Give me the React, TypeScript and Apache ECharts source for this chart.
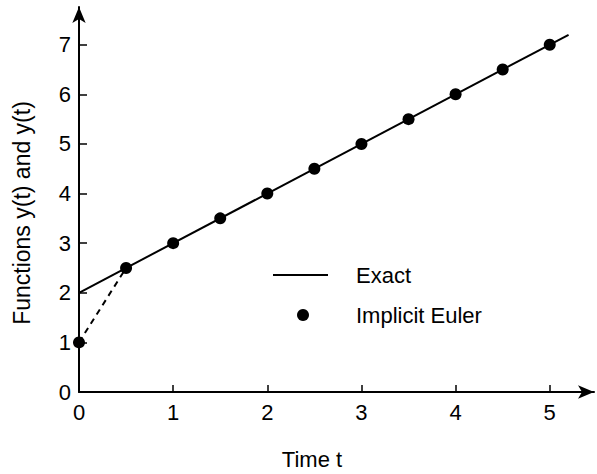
import React, { useEffect, useRef } from "react";
import * as echarts from "echarts";

const xTicks = [0, 1, 2, 3, 4, 5];
const yTicks = [0, 1, 2, 3, 4, 5, 6, 7];
const exactT = [0, 5.2];
const exactY = [2, 7.2];
const eulerT = [0, 0.5, 1, 1.5, 2, 2.5, 3, 3.5, 4, 4.5, 5];
const eulerY = [1, 2.5, 3, 3.5, 4, 4.5, 5, 5.5, 6, 6.5, 7];
const dashT = [0, 0.5];
const dashY = [1, 2.5];
const legendNames = ["Exact", "Implicit Euler"];
const xTitle = "Time t";
const yTitle = "Functions y(t) and y(t)";

const FONT = "'Liberation Sans', Arial, sans-serif";

export default function App() {
  const ref = useRef<HTMLDivElement>(null);
  useEffect(() => {
    if (!ref.current) return;
    const chart = echarts.init(ref.current, null, { renderer: "svg" });
    const axisLine = {
      show: true,
      onZero: false,
      lineStyle: { color: "#000", width: 2 },
      symbol: ["none", "arrow"],
      symbolSize: [10, 16],
    };
    const fmt = (list: number[]) => (v: number) => (list.includes(v) ? String(v) : "");
    chart.setOption({
      animation: false,
      backgroundColor: "#fff",
      grid: { left: 79, right: 3, top: 7, bottom: 82, containLabel: false },
      xAxis: {
        type: "value",
        min: 0,
        max: 5.47,
        interval: 1,
        axisLine,
        splitLine: { show: false },
        axisTick: { show: true, inside: true, length: 7, lineStyle: { color: "#000", width: 1.5 } },
        axisLabel: { formatter: fmt(xTicks), showMaxLabel: false, color: "#000", fontSize: 22, fontFamily: FONT, margin: 9 },
      },
      yAxis: {
        type: "value",
        min: 0,
        max: 7.76,
        interval: 1,
        axisLine,
        splitLine: { show: false },
        axisTick: { show: true, inside: true, length: 8, lineStyle: { color: "#000", width: 1.5 } },
        axisLabel: { formatter: fmt(yTicks), showMaxLabel: false, color: "#000", fontSize: 22, fontFamily: FONT, margin: 8 },
      },
      series: [
        {
          name: legendNames[0],
          type: "line",
          data: exactT.map((t, i) => [t, exactY[i]]),
          showSymbol: false,
          symbol: "none",
          lineStyle: { color: "#000", width: 2 },
          z: 2,
        },
        {
          name: "dash",
          type: "line",
          data: dashT.map((t, i) => [t, dashY[i]]),
          showSymbol: false,
          symbol: "none",
          lineStyle: { color: "#000", width: 2, type: [6, 5] },
          z: 2,
        },
        {
          name: legendNames[1],
          type: "scatter",
          data: eulerT.map((t, i) => [t, eulerY[i]]),
          symbol: "circle",
          symbolSize: 12,
          itemStyle: { color: "#000", opacity: 1 },
          z: 3,
        },
      ],
      graphic: [
        { type: "line", shape: { x1: 273, y1: 275, x2: 328, y2: 275 }, style: { stroke: "#000", lineWidth: 2 } },
        { type: "text", x: 356, y: 275, style: { text: legendNames[0], fontSize: 22, fontFamily: FONT, fill: "#000", textAlign: "left", textVerticalAlign: "middle" } },
        { type: "circle", shape: { cx: 303, cy: 315, r: 6 }, style: { fill: "#000" } },
        { type: "text", x: 356, y: 315, style: { text: legendNames[1], fontSize: 22, fontFamily: FONT, fill: "#000", textAlign: "left", textVerticalAlign: "middle" } },
        { type: "text", x: 312, y: 459, style: { text: xTitle, fontSize: 22, fontFamily: FONT, fill: "#000", textAlign: "center", textVerticalAlign: "middle" } },
        { type: "text", x: 22, y: 213, rotation: Math.PI / 2, style: { text: yTitle, fontSize: 23, fontFamily: FONT, fill: "#000", textAlign: "center", textVerticalAlign: "middle" } },
      ],
    });
    return () => chart.dispose();
  }, []);
  return <div ref={ref} style={{ width: 597, height: 474, position: "absolute", left: 0, top: 0 }} />;
}
